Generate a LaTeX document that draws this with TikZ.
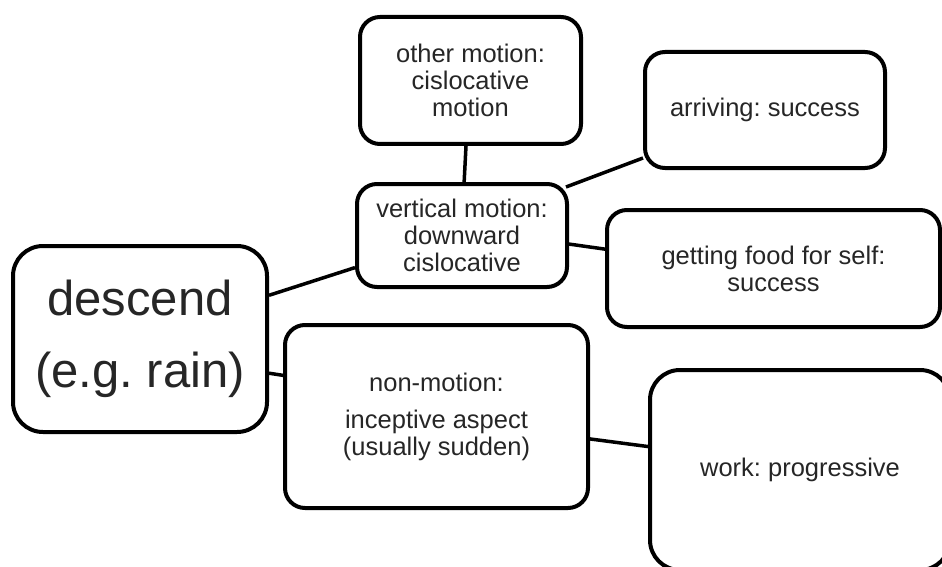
\documentclass[tikz,border=0pt]{standalone}
\usepackage{fontspec}
\setmainfont{Liberation Sans}
\usetikzlibrary{calc}
\begin{document}
\frenchspacing
\begin{tikzpicture}[x=1pt,y=-1pt,
  box/.style={draw=black,line width=4pt,fill=white,rounded corners=20pt,
    align=center,inner sep=0pt,text=black!85,
    font=\fontsize{25.5}{27}\selectfont},
  link/.style={line width=3.5pt,draw=black}]
\useasboundingbox (0,0) rectangle (942,567);
\begin{scope}
\clip (0,0) rectangle (942,567);

% the boxes
\node[box,rounded corners=30pt,minimum width=254pt,minimum height=186pt,
  font=\fontsize{49}{72}\selectfont] (desc) at (140,339) {descend\\(e.g. rain)};
\node[box,minimum width=221pt,minimum height=127pt] (other) at (470.5,80.5)
  {other motion:\\cislocative\\motion};
\node[box,minimum width=210pt,minimum height=103pt] (vert) at (462,235.5)
  {vertical motion:\\downward\\cislocative};
\node[box,minimum width=240pt,minimum height=116pt] (arr) at (765,110)
  {arriving: success};
\node[box,minimum width=333pt,minimum height=117pt] (food) at (773.5,268.5)
  {getting food for self:\\success};
\node[box,minimum width=303pt,minimum height=183pt] (nonm) at (436.5,416.5)
  {non-motion:\\[10pt]inceptive aspect\\(usually sudden)};
\node[box,rounded corners=30pt,minimum width=300pt,minimum height=200pt] (work) at (800,470)
  {work: progressive};

% links between the boxes
\draw[link] ($(desc.north east)!0.27!(desc.south east)$) -- ($(vert.north west)!0.8!(vert.south west)$);
\draw[link] ($(desc.north east)!0.68!(desc.south east)$) -- ($(nonm.north west)!0.28!(nonm.south west)$);
\draw[link] ($(other.south west)!0.48!(other.south east)$) -- ($(vert.north west)!0.51!(vert.north east)$);
\draw[link] ($(vert.north east)+(-3,5)$) -- ($(arr.north west)!0.9!(arr.south west)$);
\draw[link] ($(vert.north east)!0.58!(vert.south east)$) -- ($(food.north west)!0.34!(food.south west)$);
\draw[link] ($(nonm.north east)!0.62!(nonm.south east)$) -- ($(work.north west)!0.385!(work.south west)$);
\end{scope}
\end{tikzpicture}
\end{document}
